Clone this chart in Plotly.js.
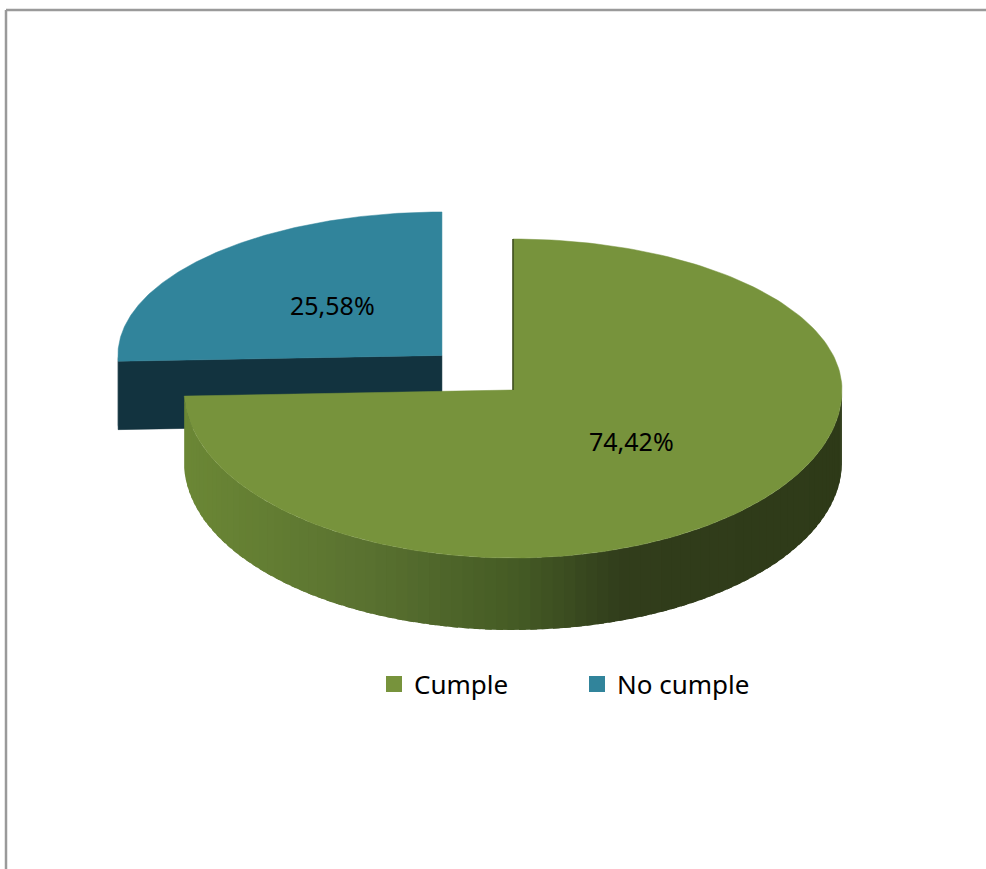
<!DOCTYPE html>
<html>
<head>
<meta charset="utf-8">
<script src="https://cdn.plot.ly/plotly-3.0.1.min.js"></script>
<style>html,body{margin:0;padding:0;background:#fff;}#chart{width:986px;height:869px;}</style>
</head>
<body>
<div id="chart"></div>
<script>
// ---- data ----
const categories = ['Cumple', 'No cumple'];
const values = [74.42, 25.58];
const labels = ['74,42%', '25,58%'];

// ---- style ----
const topColors = ['#77933c', '#31849b'];
const sideColors = ['#2e3a18', '#12333f'];
const gradStops = [[185, [107,135,53]], [370, [89,113,48]], [520, [68,90,36]], [620, [49,61,27]], [845, [46,58,24]]];
const W = 986, H = 869;
const cx = 513, cy = 390, A = 329, bUp = 151, bDown = 168, depth = 72;
const pulls = [0, 0.3];
const scales = [[1, 1], [0.985, 0.95]];
const labelFrac = [0.5, 0.47];
const labelShift = [-7, -4];

function rad(d) { return d * Math.PI / 180; }
function pt(th, c) {
  const s = Math.sin(rad(th));
  return [c.x + A * c.sx * Math.cos(rad(th)), c.y - (s >= 0 ? bUp : bDown) * c.sy * s];
}
function gradColor(x) {
  for (let i = 0; i < gradStops.length - 1; i++) {
    const [x0, c0] = gradStops[i], [x1, c1] = gradStops[i + 1];
    if (x <= x1) {
      const t = Math.max(0, (x - x0) / (x1 - x0));
      return 'rgb(' + c0.map((v, k) => Math.round(v + (c1[k] - v) * t)).join(',') + ')';
    }
  }
  const c = gradStops[gradStops.length - 1][1];
  return 'rgb(' + c.join(',') + ')';
}
function poly(xs, ys, fill, lineColor, lw) {
  return {type: 'scatter', mode: 'lines', x: xs, y: ys, fill: 'toself', fillcolor: fill,
    line: {color: lineColor || fill, width: lw === undefined ? 0 : lw}, hoverinfo: 'skip', showlegend: false};
}

// slice angular ranges (clockwise from 90 deg)
const total = values.reduce((a, b) => a + b, 0);
const slices = [];
let start = 90;
values.forEach((v, i) => {
  const sweep = 360 * v / total;
  const end = start - sweep;
  const mid = (start + end) / 2;
  const p = pulls[i];
  const c = {
    x: cx + p * A * Math.cos(rad(mid)),
    y: cy - p * bUp * 1.1 * Math.sin(rad(mid)),
    sx: scales[i][0], sy: scales[i][1]
  };
  slices.push({start, end, mid, c, i});
  start = end;
});

const traces = [];
function sideArc(s, th0, th1, n, colorFn) {
  const d = depth * s.c.sy;
  const step = (th1 - th0) / n;
  for (let j = 0; j < n; j++) {
    const a0 = th0 + step * j;
    const a1 = (j === n - 1) ? th1 : th0 + step * (j + 1.6);   // overlap to hide seams
    const xs = [], ys = [];
    for (let k = 0; k <= 4; k++) { const p = pt(a0 + (a1 - a0) * k / 4, s.c); xs.push(p[0]); ys.push(p[1]); }
    for (let k = 4; k >= 0; k--) { const p = pt(a0 + (a1 - a0) * k / 4, s.c); xs.push(p[0]); ys.push(p[1] + d); }
    xs.push(xs[0]); ys.push(ys[0]);
    const pm = pt(a0 + step / 2, s.c);
    traces.push(poly(xs, ys, colorFn(pm[0])));
  }
}
function topFace(s) {
  const xs = [s.c.x], ys = [s.c.y];
  const n = 200;
  for (let k = 0; k <= n; k++) { const p = pt(s.start + (s.end - s.start) * k / n, s.c); xs.push(p[0]); ys.push(p[1]); }
  xs.push(s.c.x); ys.push(s.c.y);
  traces.push(poly(xs, ys, topColors[s.i], topColors[s.i], 0.5));
}

// back slice (No cumple) first
const blue = slices[1], green = slices[0];
{
  const d = depth * blue.c.sy;
  const p = pt(blue.start, blue.c);
  traces.push(poly([blue.c.x, p[0], p[0], blue.c.x, blue.c.x], [blue.c.y, p[1], p[1] + d, blue.c.y + d, blue.c.y], sideColors[1], sideColors[1], 0.5));
  const lo = Math.max(blue.end, -180), hi = Math.min(blue.start, 0);
  if (hi > lo) sideArc(blue, hi, lo, 2, () => sideColors[1]);
  topFace(blue);
}
{
  const lo = Math.max(green.end, -180), hi = Math.min(green.start, 0);
  sideArc(green, lo, hi, 90, gradColor);
  topFace(green);
  const p = pt(green.start, green.c);
  traces.push({type: 'scatter', mode: 'lines', x: [green.c.x, p[0]], y: [green.c.y, p[1]],
    line: {color: '#3b4a1d', width: 1.5}, hoverinfo: 'skip', showlegend: false});
}

// legend entries
categories.forEach((name, i) => {
  traces.push({type: 'scatter', mode: 'markers', x: [null], y: [null], name: name,
    marker: {symbol: 'square', size: 18, color: topColors[i]}, showlegend: true, hoverinfo: 'skip'});
});

const annotations = slices.map(s => {
  const f = labelFrac[s.i];
  const p = pt(s.mid, s.c);
  return {x: s.c.x + (p[0] - s.c.x) * f, y: s.c.y + (p[1] - s.c.y) * f, text: labels[s.i],
    showarrow: false, yshift: -labelShift[s.i],
    font: {family: 'Noto Sans, Open Sans, sans-serif', size: 25, color: '#000'}};
});

const layout = {
  width: W, height: H,
  margin: {l: 0, r: 0, t: 0, b: 0},
  paper_bgcolor: '#fff', plot_bgcolor: '#fff',
  xaxis: {range: [0, W], visible: false, fixedrange: true},
  yaxis: {range: [H, 0], visible: false, fixedrange: true},
  showlegend: true,
  legend: {orientation: 'h', x: 374 / W, xanchor: 'left', y: 1 - 684 / H, yanchor: 'middle',
    font: {family: 'Noto Sans, Open Sans, sans-serif', size: 26, color: '#000'},
    entrywidth: 158, entrywidthmode: 'pixels', bgcolor: 'rgba(0,0,0,0)'},
  annotations: annotations,
  shapes: [
    {type: 'line', xref: 'x', yref: 'y', x0: 6, y0: 10, x1: W + 5, y1: 10, line: {color: '#9a9a9a', width: 2.5}},
    {type: 'line', xref: 'x', yref: 'y', x0: 6, y0: 10, x1: 6, y1: H + 5, line: {color: '#9a9a9a', width: 2.5}}
  ]
};
Plotly.newPlot('chart', traces, layout, {staticPlot: true, displayModeBar: false});
</script>
</body>
</html>
